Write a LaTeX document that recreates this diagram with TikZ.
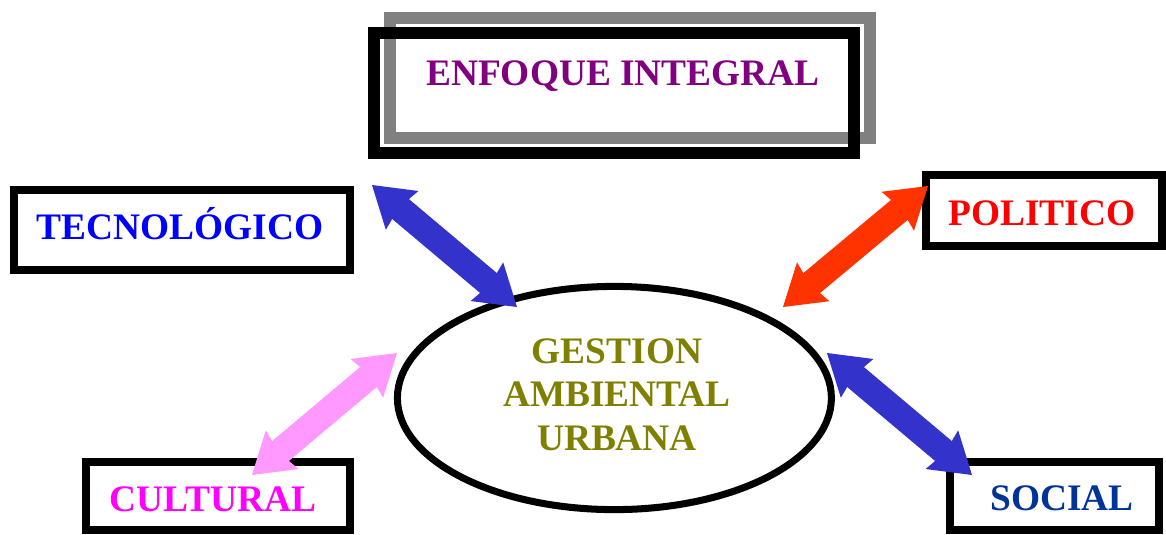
\documentclass[tikz,border=0pt]{standalone}
\usepackage{fontspec}
\setmainfont{Liberation Serif}
\usepackage[svgnames]{xcolor}
\usepackage{tikz}
\usetikzlibrary{arrows.meta}
\definecolor{ArrowBlue}{HTML}{3333CC}
\definecolor{ArrowRed}{HTML}{FF3300}
\definecolor{ArrowPink}{HTML}{FF99FF}
\definecolor{SocialBlue}{HTML}{003399}
\tikzstyle{none}=[inner sep=0pt]
\tikzstyle{boxtext}=[inner sep=0pt,anchor=base,font=\fontsize{26.6}{32}\selectfont\bfseries]
\tikzstyle{greybox}=[draw=Gray,line width=8.5pt]
\tikzstyle{blackbox}=[draw=Black,line width=8.5pt]
\tikzstyle{thinbox}=[draw=Black,line width=5.7pt]
\tikzstyle{ring}=[draw=Black,line width=5pt]
\tikzstyle{twoway}=[{Stealth[length=28pt,width=36pt,inset=3pt,line width=0pt]}-{Stealth[length=28pt,width=36pt,inset=3pt,line width=0pt]},line width=18.5pt]

\begin{document}
\begin{tikzpicture}
  \useasboundingbox (0, 0) rectangle (29.15, -13.35);
  \node [style=none] (0) at (9.75, -0.45) {};
  \node [style=none] (1) at (21.75, -0.45) {};
  \node [style=none] (2) at (21.75, -3.45) {};
  \node [style=none] (3) at (9.75, -3.45) {};
  \node [style=none] (4) at (9.35, -0.825) {};
  \node [style=none] (5) at (21.35, -0.825) {};
  \node [style=none] (6) at (21.35, -3.825) {};
  \node [style=none] (7) at (9.35, -3.825) {};
  \node [style=none] (8) at (0.35, -4.75) {};
  \node [style=none] (9) at (8.75, -4.75) {};
  \node [style=none] (10) at (8.75, -6.75) {};
  \node [style=none] (11) at (0.35, -6.75) {};
  \node [style=none] (12) at (23.15, -4.375) {};
  \node [style=none] (13) at (29.05, -4.375) {};
  \node [style=none] (14) at (29.05, -6.15) {};
  \node [style=none] (15) at (23.15, -6.15) {};
  \node [style=none] (16) at (2.15, -11.55) {};
  \node [style=none] (17) at (8.75, -11.55) {};
  \node [style=none] (18) at (8.75, -13.25) {};
  \node [style=none] (19) at (2.15, -13.25) {};
  \node [style=none] (20) at (23.75, -11.55) {};
  \node [style=none] (21) at (28.975, -11.55) {};
  \node [style=none] (22) at (28.975, -13.25) {};
  \node [style=none] (23) at (23.75, -13.25) {};
  \node [style=none] (24) at (15.36, -9.95) {};
  \node [style=none] (33) at (9.3, -4.625) {};
  \node [style=none] (34) at (12.925, -7.675) {};
  \node [style=none] (35) at (23.2, -4.65) {};
  \node [style=none] (36) at (19.575, -7.675) {};
  \node [style=none] (37) at (9.925, -8.825) {};
  \node [style=none] (38) at (6.3, -11.875) {};
  \node [style=none] (39) at (20.675, -8.825) {};
  \node [style=none] (40) at (24.3, -11.875) {};
  \draw [style=greybox] (0.center) -- (1.center) -- (2.center) -- (3.center) -- cycle;
  \draw [style=blackbox] (4.center) -- (5.center) -- (6.center) -- (7.center) -- cycle;
  \draw [style=thinbox] (8.center) -- (9.center) -- (10.center) -- (11.center) -- cycle;
  \draw [style=thinbox] (12.center) -- (13.center) -- (14.center) -- (15.center) -- cycle;
  \draw [style=thinbox] (16.center) -- (17.center) -- (18.center) -- (19.center) -- cycle;
  \draw [style=thinbox] (20.center) -- (21.center) -- (22.center) -- (23.center) -- cycle;
  \draw [style=ring] (24.center) ellipse (5.425 and 2.79);
  \draw [style=twoway, draw=ArrowBlue] (33.center) to (34.center);
  \draw [style=twoway, draw=ArrowRed] (35.center) to (36.center);
  \draw [style=twoway, draw=ArrowPink] (37.center) to (38.center);
  \draw [style=twoway, draw=ArrowBlue] (39.center) to (40.center);
  \node [style=boxtext, text=Purple] (25) at (15.575, -2.125) {ENFOQUE INTEGRAL};
  \node [style=boxtext, text=Blue] (26) at (4.5, -5.98) {TECNOLÓGICO};
  \node [style=boxtext, text=Red] (27) at (26.05, -5.625) {POLITICO};
  \node [style=boxtext, text=Magenta] (28) at (5.325, -12.79) {CULTURAL};
  \node [style=boxtext, text=SocialBlue] (29) at (26.55, -12.77) {SOCIAL};
  \node [style=boxtext, text=Olive] (30) at (15.425, -9.075) {GESTION};
  \node [style=boxtext, text=Olive] (31) at (15.425, -10.15) {AMBIENTAL};
  \node [style=boxtext, text=Olive] (32) at (15.425, -11.25) {URBANA};
\end{tikzpicture}
\end{document}
